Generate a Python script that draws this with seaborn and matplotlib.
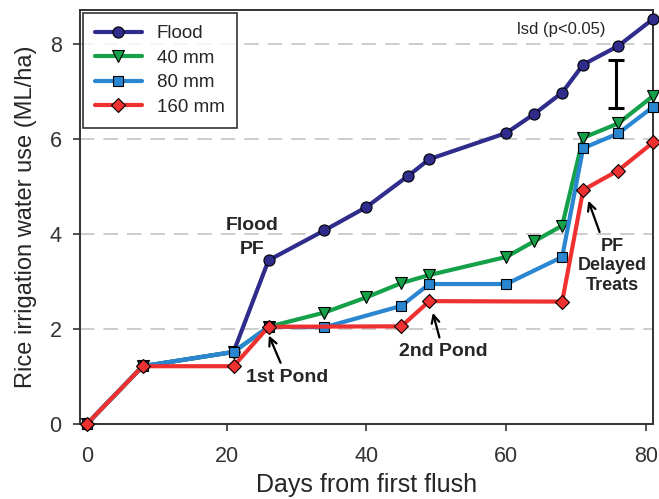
import numpy as np
import pandas as pd
import seaborn as sns
import matplotlib.pyplot as plt

# days after first flush and cumulative water use (ML/ha)
flood_days = [0, 8, 21, 26, 34, 40, 46, 49, 60, 64, 68, 71, 76, 81]
flood_use = [0, 1.22, 1.52, 3.45, 4.08, 4.57, 5.23, 5.58, 6.13, 6.53, 6.98, 7.57, 7.96, 8.53]

mm40_days = [0, 8, 21, 26, 34, 40, 45, 49, 60, 64, 68, 71, 76, 81]
mm40_use = [0, 1.22, 1.52, 2.05, 2.35, 2.67, 2.97, 3.14, 3.52, 3.85, 4.18, 6.03, 6.33, 6.91]

mm80_days = [0, 8, 21, 26, 34, 45, 49, 60, 68, 71, 76, 81]
mm80_use = [0, 1.22, 1.52, 2.05, 2.04, 2.49, 2.95, 2.95, 3.52, 5.81, 6.12, 6.68]

mm160_days = [0, 8, 21, 26, 45, 49, 68, 71, 76, 81]
mm160_use = [0, 1.22, 1.22, 2.05, 2.06, 2.59, 2.58, 4.93, 5.34, 5.93]

lsd_x = 75.7
lsd_mid = 7.16
lsd_half = 0.51

series = [
    ("Flood", flood_days, flood_use, "#2f2c8c", "o", 8),
    ("40 mm", mm40_days, mm40_use, "#15a04a", "v", 8),
    ("80 mm", mm80_days, mm80_use, "#2a86d1", "s", 6.5),
    ("160 mm", mm160_days, mm160_use, "#ee3130", "D", 7),
]

sns.set_theme(style="ticks", rc={
    "axes.edgecolor": "#333333",
    "axes.linewidth": 1.4,
    "xtick.color": "#333333",
    "ytick.color": "#333333",
    "xtick.major.size": 5,
    "ytick.major.size": 5,
    "xtick.major.width": 1.2,
    "ytick.major.width": 1.2,
})
plt.rcParams["font.family"] = ["Liberation Sans", "DejaVu Sans"]

fig = plt.figure(figsize=(6.59, 4.99), dpi=100)
ax = fig.add_axes([0.121, 0.150, 0.870, 0.830])

for yy in [2, 4, 6, 8]:
    ax.axhline(yy, color="#c8c8c8", lw=1.3, dashes=(8, 5), zorder=0)

for i, (name, d, u, c, m, ms) in enumerate(series):
    df = pd.DataFrame({"day": d, "use": u})
    sns.lineplot(data=df, x="day", y="use", ax=ax, color=c, lw=3.0, marker=m,
                 markersize=ms, markeredgecolor="black", markeredgewidth=0.8,
                 label=name, clip_on=False, zorder=3 + i)

ax.errorbar([lsd_x], [lsd_mid], yerr=[lsd_half], fmt="none", ecolor="black",
            elinewidth=2.2, capsize=6, capthick=2.2, zorder=5)
ax.text(67.8, 8.3, "lsd (p<0.05)", ha="center", va="center", fontsize=12)

bold = dict(fontsize=14, fontweight="bold", ha="center", va="center")
ax.text(23.6, 3.93, "Flood\nPF", linespacing=1.5, **bold)
arr = dict(arrowstyle="->", color="black", lw=1.6, mutation_scale=14)
ax.annotate("1st Pond", xy=(25.9, 1.92), xytext=(28.6, 0.99), arrowprops=arr,
            zorder=10, **bold)
ax.annotate("2nd Pond", xy=(49.4, 2.4), xytext=(51.0, 1.52), arrowprops=arr,
            zorder=10, **bold)
ax.annotate("PF\nDelayed\nTreats", xy=(71.6, 4.76), xytext=(75.1, 3.33),
            arrowprops=arr, linespacing=1.2, zorder=10,
            fontsize=13, fontweight="bold", ha="center", va="center")

ax.set_xlim(-1, 81)
ax.set_ylim(0, 8.72)
ax.set_xticks([0, 20, 40, 60, 80])
ax.set_yticks([0, 2, 4, 6, 8])
ax.tick_params(labelsize=15.5)
ax.tick_params(axis="x", pad=11)
ax.tick_params(axis="y", pad=8)
ax.set_xlabel("Days from first flush", fontsize=18, labelpad=4)
ax.set_ylabel("Rice irrigation water use (ML/ha)", fontsize=17, labelpad=9)

leg = ax.legend(loc="upper left", fontsize=13.5, frameon=True, fancybox=False,
                handlelength=2.5, borderpad=0.65, labelspacing=0.4,
                borderaxespad=0.15, bbox_to_anchor=(0.0, 1.0))
leg.get_frame().set_edgecolor("black")
leg.get_frame().set_linewidth(1.2)

fig.savefig("out.png", dpi=100)
